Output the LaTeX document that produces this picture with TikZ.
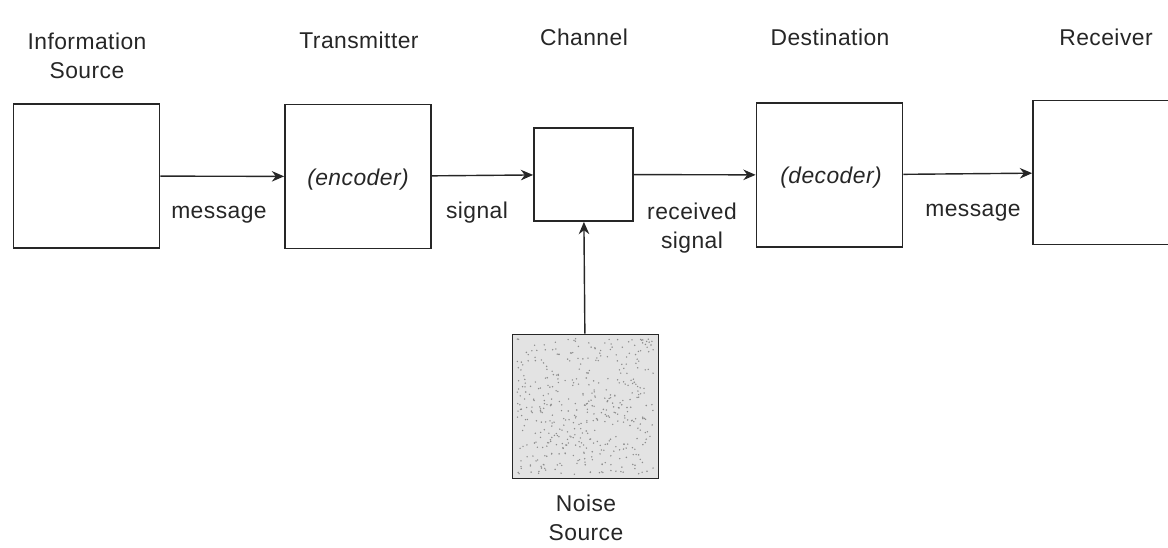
\documentclass[tikz,border=0pt]{standalone}
\usepackage{fontspec}
\setmainfont{Liberation Sans}[LetterSpace=2]
\usetikzlibrary{arrows.meta,positioning}
\tikzset{
  block/.style={draw=black!85, line width=1pt, minimum width=2.92cm, minimum height=2.88cm, inner sep=0pt},
  lbl/.style={text=black!85, font=\fontsize{13}{16.5}\selectfont, align=center, inner sep=0pt},
  flow/.style={draw=black!85, line width=0.8pt, -{Stealth[length=7pt,width=6pt]}},
}
\begin{document}
\begin{tikzpicture}
\useasboundingbox (0,0) rectangle (23.36,-10.94);
\clip (0,0) rectangle (23.36,-10.94);
% Blocks along the chain
\node[block] (src) at (1.73,-3.52) {};
\node[block] (tx) at (7.16,-3.53) {};
\node[block, minimum width=1.98cm, minimum height=1.86cm] (chan) at (11.67,-3.49) {};
\node[block] (dst) at (16.59,-3.50) {};
\node[block] (rx) at (22.12,-3.45) {};
% Noise source with speckles
\node[block, fill=black!11] (noise) at (11.71,-8.13) {};
\pgfmathsetseed{11}
\foreach \i in {1,...,450}{
  \fill[black!45] ({10.33+2.76*rnd},{-9.49+2.72*rnd}) circle (0.45pt);
}
% Titles
\node[lbl] (srct) at (1.74,-1.11) {Information\\Source};
\node[lbl] (txt) at (7.18,-0.80) {Transmitter};
\node[lbl] (chant) at (11.68,-0.74) {Channel};
\node[lbl] (dstt) at (16.60,-0.74) {Destination};
\node[lbl] (rxt) at (22.12,-0.74) {Receiver};
\node[lbl] (noiset) at (11.72,-10.36) {Noise\\Source};
% Inner labels
\node[lbl, font=\fontsize{13}{16.5}\selectfont\itshape] (enc) at (7.16,-3.60) {(encoder)};
\node[lbl, font=\fontsize{13}{16.5}\selectfont\itshape] (dec) at (16.62,-3.56) {(decoder)};
% Signal labels
\node[lbl] (msga) at (4.38,-4.30) {message};
\node[lbl] (sig) at (9.54,-4.26) {signal};
\node[lbl] (rsig) at (13.84,-4.56) {received\\signal};
\node[lbl] (msgb) at (19.46,-4.26) {message};
% Connectors
\draw[flow] (src) -- (tx);
\draw[flow] (tx) -- (chan);
\draw[flow] (chan) -- (dst);
\draw[flow] (dst) -- (rx);
\draw[flow] (noise) -- (chan);
\end{tikzpicture}
\end{document}
